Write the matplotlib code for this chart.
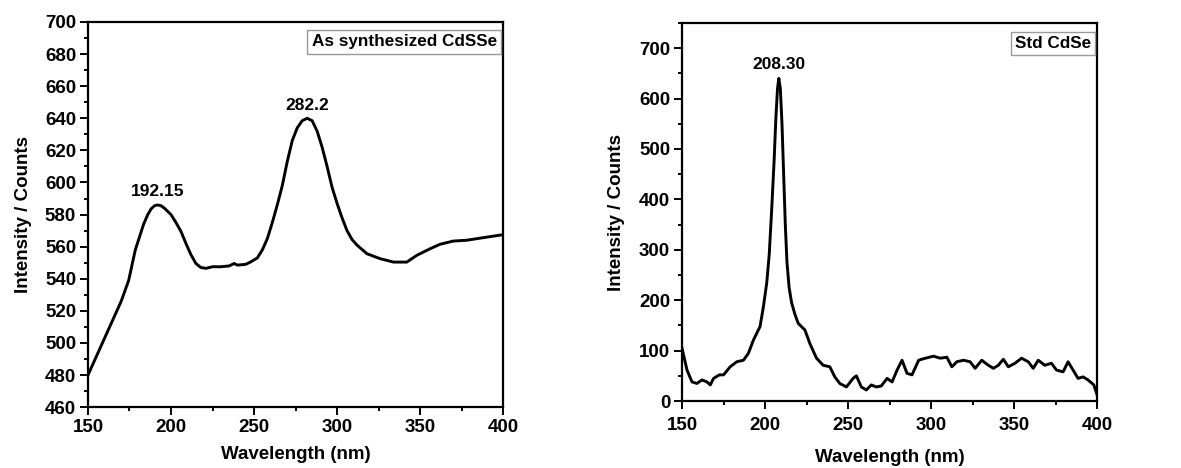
import matplotlib
matplotlib.use("Agg")
import matplotlib.pyplot as plt
from matplotlib.ticker import MultipleLocator

plt.rcParams['font.family'] = ['Liberation Sans', 'DejaVu Sans']
plt.rcParams['font.weight'] = 'bold'

# Left panel: As synthesized CdSSe
wl_a = [150, 160, 170, 174.5, 178.5, 183.5, 186, 188, 190, 192, 194, 196, 198, 200, 203, 206,
        209, 212, 215, 218, 221, 225, 230, 235, 238, 240, 245, 248, 252, 255, 258, 261, 264,
        267, 270, 273, 276, 279, 282, 285, 288, 291, 294, 297, 300, 303, 306, 309, 312, 318,
        326, 334, 342, 348, 356, 362, 370, 378, 388, 400]
int_a = [480, 503, 526, 539, 558, 574, 580, 583.5, 585.5, 586, 585.5, 584, 582, 580, 575, 569.5,
         562, 555, 549.5, 547, 546.5, 547.5, 547.5, 548, 549.5, 548.5, 549, 550.5, 553, 558, 565, 575, 586,
         598, 613, 626, 634, 638.5, 640, 638.5, 632, 622, 610, 597, 587, 578, 570, 564.5, 561, 555.6,
         552.5, 550.4, 550.4, 554.6, 558.7, 561.5, 563.5, 564, 565.6, 567.5]

# Right panel: Std CdSe
wl_b = [150, 153, 156, 159, 162, 165, 167, 169, 172.5, 175, 179, 183, 187, 190, 193, 197, 199,
        201, 202.5, 204, 205.5, 206.5, 207.5, 208.3, 209.2, 210.2, 211.2, 212.2, 213.2, 214.5,
        216, 218, 220, 224, 227, 231, 235, 239,
        242, 245, 249, 253, 255, 258, 261, 264, 267, 270, 273.5, 276.5, 279.5, 282.5, 285.5,
        288.5, 292.5, 296.5, 301.5, 305.5, 309.5, 312.5, 315.5, 319.5, 323.5, 326.5, 330.5,
        334.5, 337.5, 340.5, 343.5, 346.5, 350.5, 354.5, 358.5, 361.5, 364.5, 368.5, 372.5,
        375.5, 379.5, 382.5, 385.5, 388.5, 391.5, 394.5, 398, 400]
int_b = [104.6, 61.5, 38, 35, 42, 38, 32, 45, 52, 52, 68, 78, 81, 95, 121, 148, 187,
         234, 290, 380, 480, 560, 620, 640, 620, 550, 450, 350, 275, 225,
         195, 172, 154, 141, 114, 85, 71, 68,
         48, 35, 28, 45, 50, 28, 22, 32, 28, 30, 45, 38, 61.5, 81, 55,
         52, 81, 85, 89, 85, 87, 68, 78, 81, 78, 65, 81,
         71, 65, 71, 83, 68, 75, 85, 78, 65, 81, 71, 75,
         61.5, 58, 78, 61.5, 45, 48, 42, 32, 12]

fig = plt.figure(figsize=(11.81, 4.68), dpi=100)
ax1 = fig.add_axes([0.0745, 0.130, 0.3515, 0.823])
ax2 = fig.add_axes([0.5775, 0.143, 0.3515, 0.808])

fs = 13.5
fs_ann = 12.5
fs_box = 12.3
for ax in (ax1, ax2):
    for s in ax.spines.values():
        s.set_linewidth(1.6)
    ax.tick_params(which='both', direction='out', top=False, right=False, width=1.4,
                   labelsize=fs)
    ax.tick_params(which='major', length=5.5, pad=3)
    ax.tick_params(which='minor', length=3)
    ax.set_xlim(150, 400)
    ax.xaxis.set_major_locator(MultipleLocator(50))
    ax.xaxis.set_minor_locator(MultipleLocator(25))

ax1.set_xlabel('Wavelength (nm)', fontsize=fs, fontweight='bold', labelpad=7)
ax1.set_ylabel('Intensity / Counts', fontsize=fs, fontweight='bold', labelpad=9)
ax2.set_xlabel('Wavelength (nm)', fontsize=fs, fontweight='bold', labelpad=11)
ax2.set_ylabel('Intensity / Counts', fontsize=fs, fontweight='bold', labelpad=10)
ax2.tick_params(axis='x', pad=6)

ax1.plot(wl_a, int_a, color='black', lw=2.1)
ax1.set_ylim(460, 700)
ax1.yaxis.set_major_locator(MultipleLocator(20))
ax1.yaxis.set_minor_locator(MultipleLocator(10))
ax1.text(192.15, 590, '192.15', ha='center', va='bottom', fontsize=fs_ann, fontweight='bold')
ax1.text(282.2, 643, '282.2', ha='center', va='bottom', fontsize=fs_ann, fontweight='bold')
ax1.text(0.985, 0.968, 'As synthesized CdSSe', transform=ax1.transAxes, ha='right', va='top',
         fontsize=fs_box, fontweight='bold',
         bbox=dict(boxstyle='square,pad=0.25', fc='white', ec='#999999', lw=1))

ax2.plot(wl_b, int_b, color='black', lw=2.1)
ax2.set_ylim(0, 750)
ax2.yaxis.set_major_locator(MultipleLocator(100))
ax2.yaxis.set_minor_locator(MultipleLocator(50))
ax2.text(208.3, 652, '208.30', ha='center', va='bottom', fontsize=fs_ann, fontweight='bold')
ax2.text(0.985, 0.965, 'Std CdSe', transform=ax2.transAxes, ha='right', va='top',
         fontsize=fs_box, fontweight='bold',
         bbox=dict(boxstyle='square,pad=0.25', fc='white', ec='#999999', lw=1))

for ax in (ax1, ax2):
    for lab in ax.get_xticklabels() + ax.get_yticklabels():
        lab.set_fontweight('bold')

fig.savefig('out.png', dpi=100)
